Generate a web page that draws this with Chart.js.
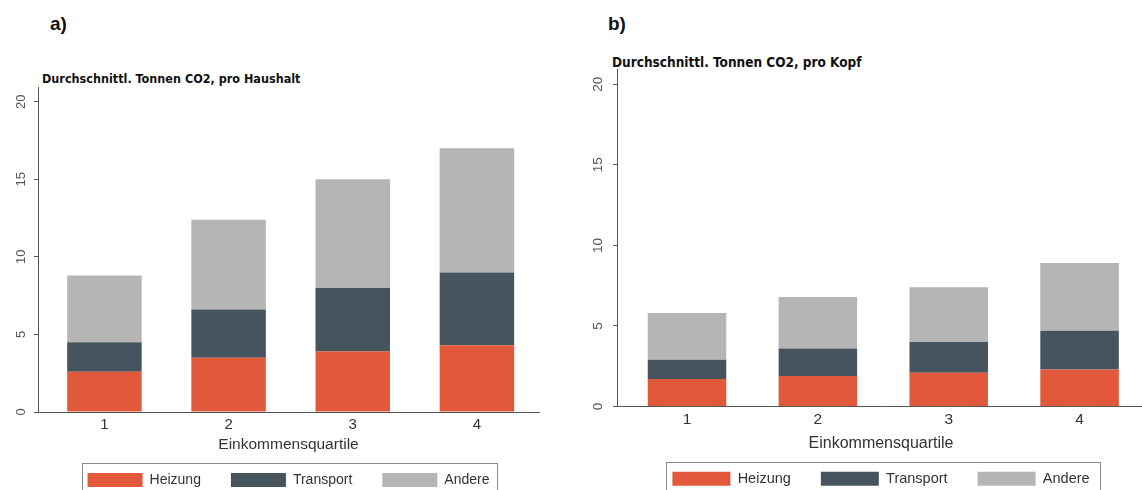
<!DOCTYPE html>
<html>
<head>
<meta charset="utf-8">
<script src="https://cdn.jsdelivr.net/npm/chart.js@4.4.1/dist/chart.umd.min.js"></script>
<style>
  html, body { margin: 0; padding: 0; background: #fff; overflow: hidden; }
  body { width: 1142px; height: 490px; position: relative; font-family: "Liberation Sans", Arial, sans-serif; }
  canvas { position: absolute; top: 0; }
  .panel { position: absolute; font-weight: bold; font-size: 19px; color: #111; }
  .sub { position: absolute; font-family: "Liberation Sans Narrow", "DejaVu Sans Condensed", sans-serif; font-stretch: condensed; font-weight: bold; color: #111; white-space: nowrap; }
</style>
</head>
<body>

<div class="panel" style="left:50px; top:13px;">a)</div>
<div class="panel" style="left:608px; top:13px;">b)</div>
<div class="sub" style="left:42px; top:71px; font-size:12.5px;">Durchschnittl. Tonnen CO2, pro Haushalt</div>
<div class="sub" style="left:612px; top:54px; font-size:13.5px;">Durchschnittl. Tonnen CO2, pro Kopf</div>

<canvas id="chartHaushalt" width="585" height="497" style="left:0px;"></canvas>
<canvas id="chartKopf" width="603" height="496" style="left:580px;"></canvas>

<script>
// Einkommensquartile
const quartile = ['1', '2', '3', '4'];
const yTicks = [0, 5, 10, 15, 20];
const seriesNames = ['Heizung', 'Transport', 'Andere'];
const seriesColors = ['#E2583A', '#46545E', '#B5B5B5'];

// a) pro Haushalt
const haushaltHeizung = [2.6, 3.5, 3.9, 4.3];
const haushaltTransport = [1.9, 3.1, 4.1, 4.7];
const haushaltAndere = [4.3, 5.8, 7.0, 8.0];

// b) pro Kopf
const kopfHeizung = [1.7, 1.9, 2.1, 2.3];
const kopfTransport = [1.2, 1.7, 1.9, 2.4];
const kopfAndere = [2.9, 3.2, 3.4, 4.2];


// rahmen um die legende
const legendFrame = {
    id: 'legendFrame',
    afterDraw(chart, args, opts) {
        const boxes = chart.legend && chart.legend.legendHitBoxes;
        if (!boxes || boxes.length === 0) return;
        const first = boxes[0];
        const last = boxes[boxes.length - 1];
        const x0 = Math.round(first.left - opts.left) + 0.5;
        const x1 = Math.round(last.left + last.width + opts.right) + 0.5;
        const y0 = Math.round(first.top - opts.top) + 0.5;
        const ctx = chart.ctx;
        ctx.save();
        ctx.strokeStyle = '#8a8a8a';
        ctx.lineWidth = 1;
        ctx.strokeRect(x0, y0, x1 - x0, 80);
        ctx.restore();
    }
};


function makeChart(canvasId, values, s) {
    return new Chart(document.getElementById(canvasId), {
        type: 'bar',
        data: {
            labels: quartile,
            datasets: values.map((v, i) => ({
                label: seriesNames[i],
                data: v,
                backgroundColor: seriesColors[i],
                borderWidth: 0,
                categoryPercentage: 1,
                barPercentage: 0.6
            }))
        },
        options: {
            responsive: false,
            animation: false,
            layout: { padding: { top: s.top, right: s.right, left: 0, bottom: 0 } },
            scales: {
                x: {
                    type: 'linear',
                    stacked: true,
                    offset: false,
                    min: 0.465,
                    max: 4.5,
                    grid: { display: false, drawTicks: false, offset: false },
                    border: { display: true, color: '#555', width: 1 },
                    ticks: {
                        padding: 4,
                        color: '#333',
                        font: { size: s.tickFont },
                        callback: (v) => String(v)
                    },
                    afterBuildTicks: (scale) => {
                        scale.ticks = quartile.map(q => ({ value: Number(q) }));
                    },
                    title: {
                        display: true,
                        text: 'Einkommensquartile',
                        color: '#333',
                        font: { size: s.titleFont },
                        padding: { top: 0, bottom: s.titlePad }
                    },
                    afterFit: (scale) => { scale.height = s.xHeight; }
                },
                y: {
                    stacked: true,
                    min: 0,
                    max: 20.95,
                    grid: { drawOnChartArea: false, drawTicks: true, tickLength: 4, color: '#555' },
                    border: { display: true, color: '#555', width: 1 },
                    ticks: {
                        minRotation: 90,
                        maxRotation: 90,
                        crossAlign: 'center',
                        padding: s.yPad,
                        color: '#555',
                        font: { size: s.yFont }
                    },
                    afterBuildTicks: (scale) => {
                        scale.ticks = yTicks.map(v => ({ value: v }));
                    },
                    afterFit: (scale) => { scale.width = s.yWidth; }
                }
            },
            plugins: {
                title: { display: false },
                tooltip: { enabled: false },
                legend: {
                    position: 'bottom',
                    fullSize: false,
                    labels: {
                        boxWidth: s.boxW,
                        boxHeight: 14,
                        padding: s.legPad,
                        color: '#333',
                        font: { size: s.legFont }
                    }
                },
                legendFrame: { left: 6, right: s.frameRight, top: 10 }
            }
        },
        plugins: [legendFrame]
    });
}


makeChart('chartHaushalt', [haushaltHeizung, haushaltTransport, haushaltAndere], {
    top: 87, right: 46, yWidth: 38, xHeight: 31,
    tickFont: 15, titleFont: 15.5, titlePad: -11.3,
    yFont: 13, yPad: 5,
    boxW: 55, legPad: 30, legFont: 14, frameRight: 8
});

makeChart('chartKopf', [kopfHeizung, kopfTransport, kopfAndere], {
    top: 69, right: 38, yWidth: 37, xHeight: 35,
    tickFont: 15.5, titleFont: 16, titlePad: -11.8,
    yFont: 13.5, yPad: 7,
    boxW: 58, legPad: 30, legFont: 14.5, frameRight: 10
});
</script>
</body>
</html>
